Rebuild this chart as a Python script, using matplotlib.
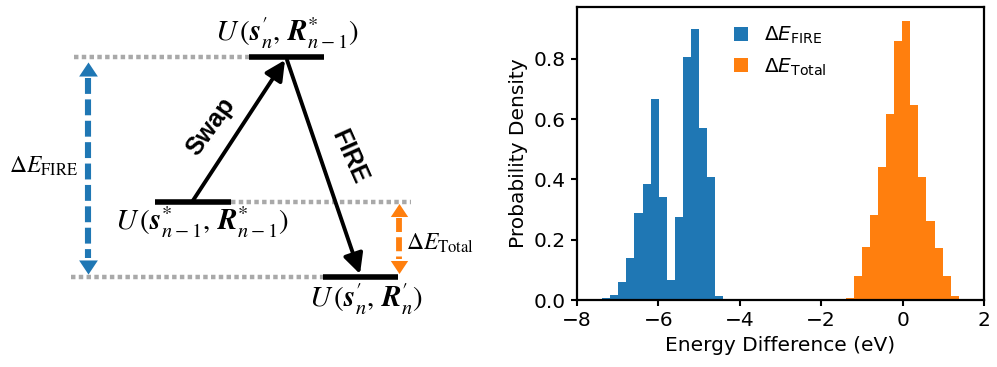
import numpy as np
import matplotlib
matplotlib.use("Agg")
import matplotlib.pyplot as plt
from matplotlib.patches import FancyArrowPatch
from matplotlib.path import Path

# ---------------- data (histogram) ----------------
fire_edges = np.linspace(-7.38, -4.41, 16)
fire_density = [0.006, 0.018, 0.061, 0.140, 0.287, 0.384, 0.666, 0.342,
                0.067, 0.275, 0.806, 0.898, 0.572, 0.407, 0.014]
total_edges = np.linspace(-1.40, 1.38, 15)
total_density = [0.008, 0.078, 0.176, 0.281, 0.442, 0.616, 0.858, 0.927,
                 0.647, 0.409, 0.262, 0.172, 0.078, 0.013]
xticks = [-8, -6, -4, -2, 0, 2]
yticks = [0.0, 0.2, 0.4, 0.6, 0.8]

# ---------------- schematic (left diagram, pixel frame) ----------------
level_names = ["start", "swapped", "relaxed"]
level_x0 = [155, 249, 323]
level_x1 = [231, 324, 398]
level_y = [202, 57, 277]
guide_x0 = [231, 74, 71]
guide_x1 = [411, 249, 323]
level_labels = [r"$U\,(\mathbfit{s}^{*}_{n-1},\,\mathbfit{R}^{*}_{n-1})$",
                r"$U\,(\mathbfit{s}^{\prime}_{n},\,\mathbfit{R}^{*}_{n-1})$",
                r"$U\,(\mathbfit{s}^{\prime}_{n},\,\mathbfit{R}^{\prime}_{n})$"]
label_xy = [(202, 230), (287, 41), (366, 307)]

BLUE = "#1f77b4"
ORANGE = "#ff7f0e"
GRAY = "#a9a9a9"

fig = plt.figure(figsize=(9.97, 3.67), dpi=100)

# ---- left diagram ----
axd = fig.add_axes([0, 0, 500 / 997, 1])
axd.set_xlim(0, 500)
axd.set_ylim(367, 0)
axd.axis("off")

for gx0, gx1, y in zip(guide_x0, guide_x1, level_y):
    axd.plot([gx0, gx1], [y, y], color=GRAY, lw=3.2,
             linestyle=(0, (1.0, 0.75)), solid_capstyle="butt",
             dash_capstyle="butt", zorder=1)
for x0, x1, y in zip(level_x0, level_x1, level_y):
    axd.plot([x0, x1], [y, y], color="black", lw=4.0,
             solid_capstyle="butt", zorder=3)
for (tx, ty), lab in zip(label_xy, level_labels):
    axd.text(tx, ty, lab, ha="center", va="baseline", fontsize=21,
             math_fontfamily="stix")

# Swap and FIRE arrows
def arrow(p0, p1):
    a = FancyArrowPatch(p0, p1, arrowstyle="-|>,head_length=0.6,head_width=0.3",
                        mutation_scale=20, color="black", lw=2.8,
                        shrinkA=0, shrinkB=0, zorder=4)
    axd.add_patch(a)

arrow((192, 202), (285, 60))
arrow((287, 60), (360, 274))
axd.text(211, 127, "Swap", rotation=54, ha="center", va="center",
         fontsize=18, fontweight="bold", family="Liberation Sans")
axd.text(349, 157, "FIRE", rotation=-66, ha="center", va="center",
         fontsize=18, fontweight="bold", family="Liberation Sans")

# dashed double arrows
tri_up = Path([(0, 0.75), (-1, -0.75), (1, -0.75), (0, 0.75)],
              [Path.MOVETO, Path.LINETO, Path.LINETO, Path.CLOSEPOLY])
tri_dn = Path([(0, -0.75), (-1, 0.75), (1, 0.75), (0, -0.75)],
              [Path.MOVETO, Path.LINETO, Path.LINETO, Path.CLOSEPOLY])

def dbl_arrow(x, ytop, ybot, color, head=13.5, lw=4.4, dash=(2.6, 0.9)):
    hh = head / 0.72 * 0.75  # head height in px
    axd.plot([x, x], [ytop + hh + 2, ybot - hh - 2], color=color, lw=lw,
             linestyle=(0, dash), dash_capstyle="butt", zorder=2)
    axd.plot([x], [ytop + hh / 2], marker=tri_up, markersize=head,
             color=color, markeredgewidth=0, zorder=2)
    axd.plot([x], [ybot - hh / 2], marker=tri_dn, markersize=head,
             color=color, markeredgewidth=0, zorder=2)

dbl_arrow(88, level_y[1] + 5, level_y[2] - 3, BLUE)
dbl_arrow(399, level_y[0] + 1, level_y[2] - 3, ORANGE, head=12.5, lw=4.2,
          dash=(2.4, 0.9))

axd.text(44, 173, r"$\Delta E_{\mathrm{FIRE}}$", ha="center", va="baseline",
         fontsize=17, math_fontfamily="stix")
axd.text(440, 250, r"$\Delta E_{\mathrm{Total}}$", ha="center", va="baseline",
         fontsize=17, math_fontfamily="stix")

# ---- right histogram ----
fs = 14.5
ax = fig.add_axes([577 / 997, (367 - 300) / 367, 407 / 997, 293 / 367])
ax.bar(fire_edges[:-1], fire_density, width=np.diff(fire_edges), align="edge",
       color=BLUE, lw=0, label=r"$\Delta E_{\mathrm{FIRE}}$")
ax.bar(total_edges[:-1], total_density, width=np.diff(total_edges), align="edge",
       color=ORANGE, lw=0, label=r"$\Delta E_{\mathrm{Total}}$")
ax.set_xlim(-8, 2)
ax.set_ylim(0, 0.972)
ax.set_xticks(xticks)
ax.set_yticks(yticks)
ax.tick_params(labelsize=fs, width=1.5, length=4.5)
for s in ax.spines.values():
    s.set_linewidth(1.6)
ax.set_xlabel("Energy Difference (eV)", fontsize=fs)
ax.set_ylabel("Probability Density", fontsize=fs)
ax.legend(loc="upper center", frameon=False, fontsize=fs,
          handlelength=0.7, handleheight=0.7, labelspacing=0.5)

fig.savefig("out.png", dpi=100)
